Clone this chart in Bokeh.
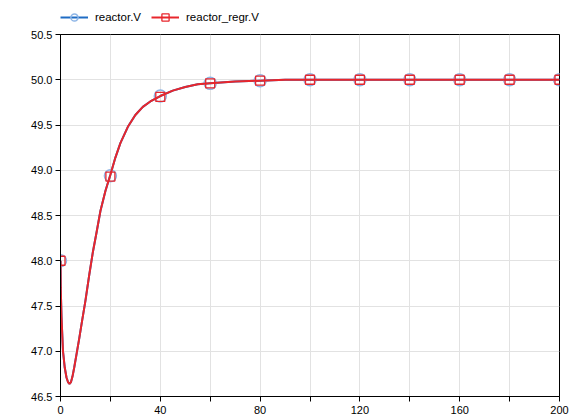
from bokeh.plotting import figure
from bokeh.models import Legend, LegendItem, FixedTicker, Range1d, NumeralTickFormatter
from bokeh.layouts import column
from bokeh.embed import file_html
from bokeh.resources import INLINE

# Data
time = [0, 0.1, 0.4, 1.0, 1.7, 2.4, 3.0, 3.6, 4.2, 4.8, 5.5, 6.5, 7.5, 8.5, 10,
        11.5, 13, 14.5, 16, 18, 20, 22, 24, 27, 30, 33, 36, 40, 45, 50, 55, 60,
        70, 80, 90, 100, 120, 140, 160, 180, 200]
reactor_V = [48.0, 47.7, 47.38, 47.0, 46.82, 46.71, 46.66, 46.64, 46.66, 46.72,
             46.82, 46.98, 47.14, 47.31, 47.56, 47.84, 48.1, 48.32, 48.55, 48.77,
             48.95, 49.14, 49.30, 49.48, 49.61, 49.70, 49.76, 49.82, 49.88, 49.92,
             49.95, 49.96, 49.98, 49.99, 50.0, 50.0, 50.0, 50.0, 50.0, 50.0, 50.0]
reactor_regr_V = [48.0, 47.7, 47.38, 47.0, 46.82, 46.71, 46.66, 46.64, 46.66, 46.72,
                  46.82, 46.98, 47.14, 47.31, 47.56, 47.84, 48.1, 48.32, 48.55, 48.77,
                  48.95, 49.14, 49.30, 49.48, 49.61, 49.70, 49.76, 49.82, 49.88, 49.92,
                  49.95, 49.96, 49.98, 49.99, 50.0, 50.0, 50.0, 50.0, 50.0, 50.0, 50.0]
marker_time = [0, 20, 40, 60, 80, 100, 120, 140, 160, 180, 200]
marker_V = [48.0, 48.94, 49.82, 49.96, 49.99, 50.0, 50.0, 50.0, 50.0, 50.0, 50.0]
marker_regr_V = [48.0, 48.93, 49.81, 49.96, 49.99, 50.0, 50.0, 50.0, 50.0, 50.0, 50.0]
x_ticks = [0, 20, 40, 60, 80, 100, 120, 140, 160, 180, 200]
x_hidden_labels = [20, 60, 100, 140, 180]
y_ticks = [46.5, 47.0, 47.5, 48.0, 48.5, 49.0, 49.5, 50.0, 50.5]
series_labels = ["reactor.V", "reactor_regr.V"]

FONT = "Liberation Sans"
BLUE = "#1f6cc4"
BLUE_MARK = "#8db5e6"
RED = "#e8262c"


def draw_series(fig):
    l1 = fig.line(time, reactor_V, line_color=BLUE, line_width=2)
    m1 = fig.scatter(marker_time, marker_V, marker="circle", size=12, fill_color=None,
                     line_color=BLUE_MARK, line_width=1.5)
    l2 = fig.line(time, reactor_regr_V, line_color=RED, line_width=2)
    m2 = fig.scatter(marker_time, marker_regr_V, marker="square", size=9, fill_color=None,
                     line_color=RED, line_width=1.3)
    return l1, m1, l2, m2


# Main plot
p = figure(width=584, height=394, output_backend="svg", toolbar_location=None,
           x_range=Range1d(0, 200), y_range=Range1d(46.5, 50.5),
           min_border_left=60, min_border_right=25, min_border_bottom=24,
           min_border_top=8)

p.outline_line_color = "black"
p.outline_line_alpha = 1
p.outline_line_width = 1

draw_series(p)

for ax in (p.xaxis[0], p.yaxis[0]):
    ax.axis_line_color = "black"
    ax.major_tick_line_color = "black"
    ax.major_tick_out = 5
    ax.major_tick_in = 0
    ax.minor_tick_out = 0
    ax.minor_tick_in = 0
    ax.major_label_text_font = FONT
    ax.major_label_text_font_size = "11px"
    ax.major_label_text_color = "black"

p.xaxis.ticker = FixedTicker(ticks=x_ticks, minor_ticks=[])
p.xaxis.major_label_overrides = {t: "" for t in x_hidden_labels}
p.xaxis.major_label_standoff = 4
p.yaxis.ticker = FixedTicker(ticks=y_ticks, minor_ticks=[])
p.yaxis.formatter = NumeralTickFormatter(format="0.0")
p.yaxis.major_label_standoff = 3

p.xgrid.grid_line_color = "#e2e2e2"
p.ygrid.grid_line_color = "#e2e2e2"

# Legend strip above the plot (series drawn outside its visible range)
lg = figure(width=584, height=26, output_backend="svg", toolbar_location=None,
            x_range=Range1d(-20, -10), y_range=Range1d(46.5, 50.5),
            x_axis_location=None, y_axis_location=None, min_border=0)
lg.outline_line_color = None
lg.xgrid.visible = False
lg.ygrid.visible = False
g1, g2, g3, g4 = draw_series(lg)

legend = Legend(items=[LegendItem(label=series_labels[0], renderers=[g1, g2]),
                       LegendItem(label=series_labels[1], renderers=[g3, g4])],
                orientation="horizontal", location=(0, 0),
                border_line_color=None, background_fill_alpha=0,
                margin=0, padding=0, spacing=10, glyph_width=28, glyph_height=18,
                label_height=18, label_standoff=7,
                label_text_font=FONT, label_text_font_size="11.5px",
                label_text_color="black")
lg.add_layout(legend, "center")

layout = column(lg, p, spacing=0)
open("out.html", "w").write(file_html(layout, INLINE))
